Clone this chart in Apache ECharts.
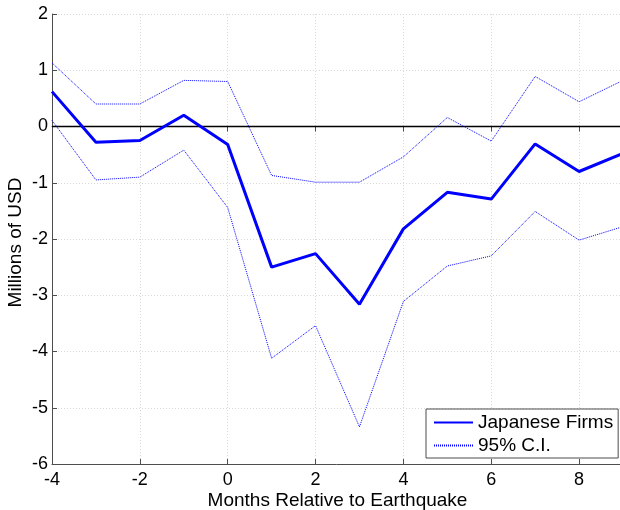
<!DOCTYPE html>
<html>
<head>
<meta charset="utf-8">
<script src="https://cdn.jsdelivr.net/npm/echarts@6/dist/echarts.min.js"></script>
<style>
html,body{margin:0;padding:0;background:#fff;}
#chart{width:620px;height:510px;}
</style>
</head>
<body>
<div id="chart"></div>
<script>
var months = [-4, -3, -2, -1, 0, 1, 2, 3, 4, 5, 6, 7, 8, 9];
var japaneseFirms = [0.62, -0.28, -0.25, 0.20, -0.32, -2.50, -2.26, -3.16, -1.82, -1.17, -1.29, -0.31, -0.80, -0.48];
var ciUpper = [1.13, 0.40, 0.40, 0.82, 0.80, -0.87, -0.99, -0.99, -0.54, 0.16, -0.26, 0.89, 0.44, 0.82];
var ciLower = [0.11, -0.95, -0.90, -0.42, -1.44, -4.12, -3.54, -5.34, -3.11, -2.48, -2.30, -1.51, -2.02, -1.78];
var xTicks = [-4, -2, 0, 2, 4, 6, 8];
var yTicks = [-6, -5, -4, -3, -2, -1, 0, 1, 2];

function pairs(xs, ys) { return xs.map(function (x, i) { return [x, ys[i]]; }); }

var FONT = '"Liberation Sans", Arial, Helvetica, sans-serif';
var AXIS_COL = '#4d4d4d';
var chart = echarts.init(document.getElementById('chart'), null, {renderer: 'canvas'});
var option = {
  animation: false,
  backgroundColor: '#ffffff',
  textStyle: {fontFamily: FONT},
  grid: {left: 52, top: 14, width: 571, height: 450, containLabel: false, outerBoundsMode: 'none'},
  legend: {
    orient: 'vertical',
    left: 426,
    top: 409,
    padding: [4, 5, 3, 7],
    itemGap: 4,
    itemWidth: 39,
    itemHeight: 14,
    backgroundColor: '#ffffff',
    borderColor: AXIS_COL,
    borderWidth: 1,
    borderRadius: 0,
    itemStyle: {opacity: 0},
    textStyle: {fontFamily: FONT, fontSize: 19, color: '#000', lineHeight: 19},
    data: ['Japanese Firms', '95% C.I.']
  },
  xAxis: [{
    type: 'value',
    min: xTicks[0], max: 9, interval: 2,
    name: 'Months Relative to Earthquake',
    nameLocation: 'middle',
    nameGap: 27.5,
    nameMoveOverlap: false,
    nameTextStyle: {fontFamily: FONT, fontSize: 19, color: '#000'},
    axisLine: {show: true, onZero: false, lineStyle: {color: AXIS_COL, width: 1}},
    axisTick: {show: true, inside: true, length: 5, lineStyle: {color: AXIS_COL}},
    axisLabel: {fontFamily: FONT, fontSize: 18, color: '#000', margin: 7, showMaxLabel: false,
      formatter: function (v) { return xTicks.indexOf(v) >= 0 ? String(v) : ''; }},
    splitLine: {show: true, lineStyle: {color: '#d9d9d9', type: [1, 2], width: 1}}
  }, {
    type: 'value', position: 'top',
    min: xTicks[0], max: 9, interval: 2,
    axisLine: {show: true, lineStyle: {color: AXIS_COL, width: 1}},
    axisTick: {show: true, inside: true, length: 5, lineStyle: {color: AXIS_COL}},
    axisLabel: {show: false},
    splitLine: {show: false}
  }],
  yAxis: [{
    type: 'value',
    min: yTicks[0], max: yTicks[yTicks.length - 1], interval: 1,
    name: 'Millions of USD',
    nameLocation: 'middle',
    nameGap: 27,
    nameMoveOverlap: false,
    nameTextStyle: {fontFamily: FONT, fontSize: 19, color: '#000', padding: [0, 7, 0, 0]},
    axisLine: {show: true, onZero: false, lineStyle: {color: AXIS_COL, width: 1}},
    axisTick: {show: true, inside: true, length: 5, lineStyle: {color: AXIS_COL}},
    axisLabel: {fontFamily: FONT, fontSize: 18, color: '#000', margin: 4},
    splitLine: {show: true, lineStyle: {color: '#d9d9d9', type: [1, 2], width: 1}}
  }],
  series: [{
    name: '95% C.I.',
    type: 'line',
    data: pairs(months, ciUpper),
    symbol: 'none',
    lineStyle: {color: '#0000ff', width: 1, type: [1, 1]},
    itemStyle: {color: '#0000ff'},
    z: 3
  }, {
    name: '95% C.I.',
    type: 'line',
    data: pairs(months, ciLower),
    symbol: 'none',
    lineStyle: {color: '#0000ff', width: 1, type: [1, 1]},
    itemStyle: {color: '#0000ff'},
    z: 3
  }, {
    name: 'Japanese Firms',
    type: 'line',
    data: pairs(months, japaneseFirms),
    symbol: 'none',
    lineStyle: {color: '#0000ff', width: 3},
    itemStyle: {color: '#0000ff'},
    z: 4,
    markLine: {
      silent: true,
      symbol: 'none',
      label: {show: false},
      lineStyle: {color: '#000000', type: 'solid', width: 1.3},
      data: [{yAxis: 0}],
      z: 2
    }
  }]
};
chart.setOption(option);
</script>
</body>
</html>
